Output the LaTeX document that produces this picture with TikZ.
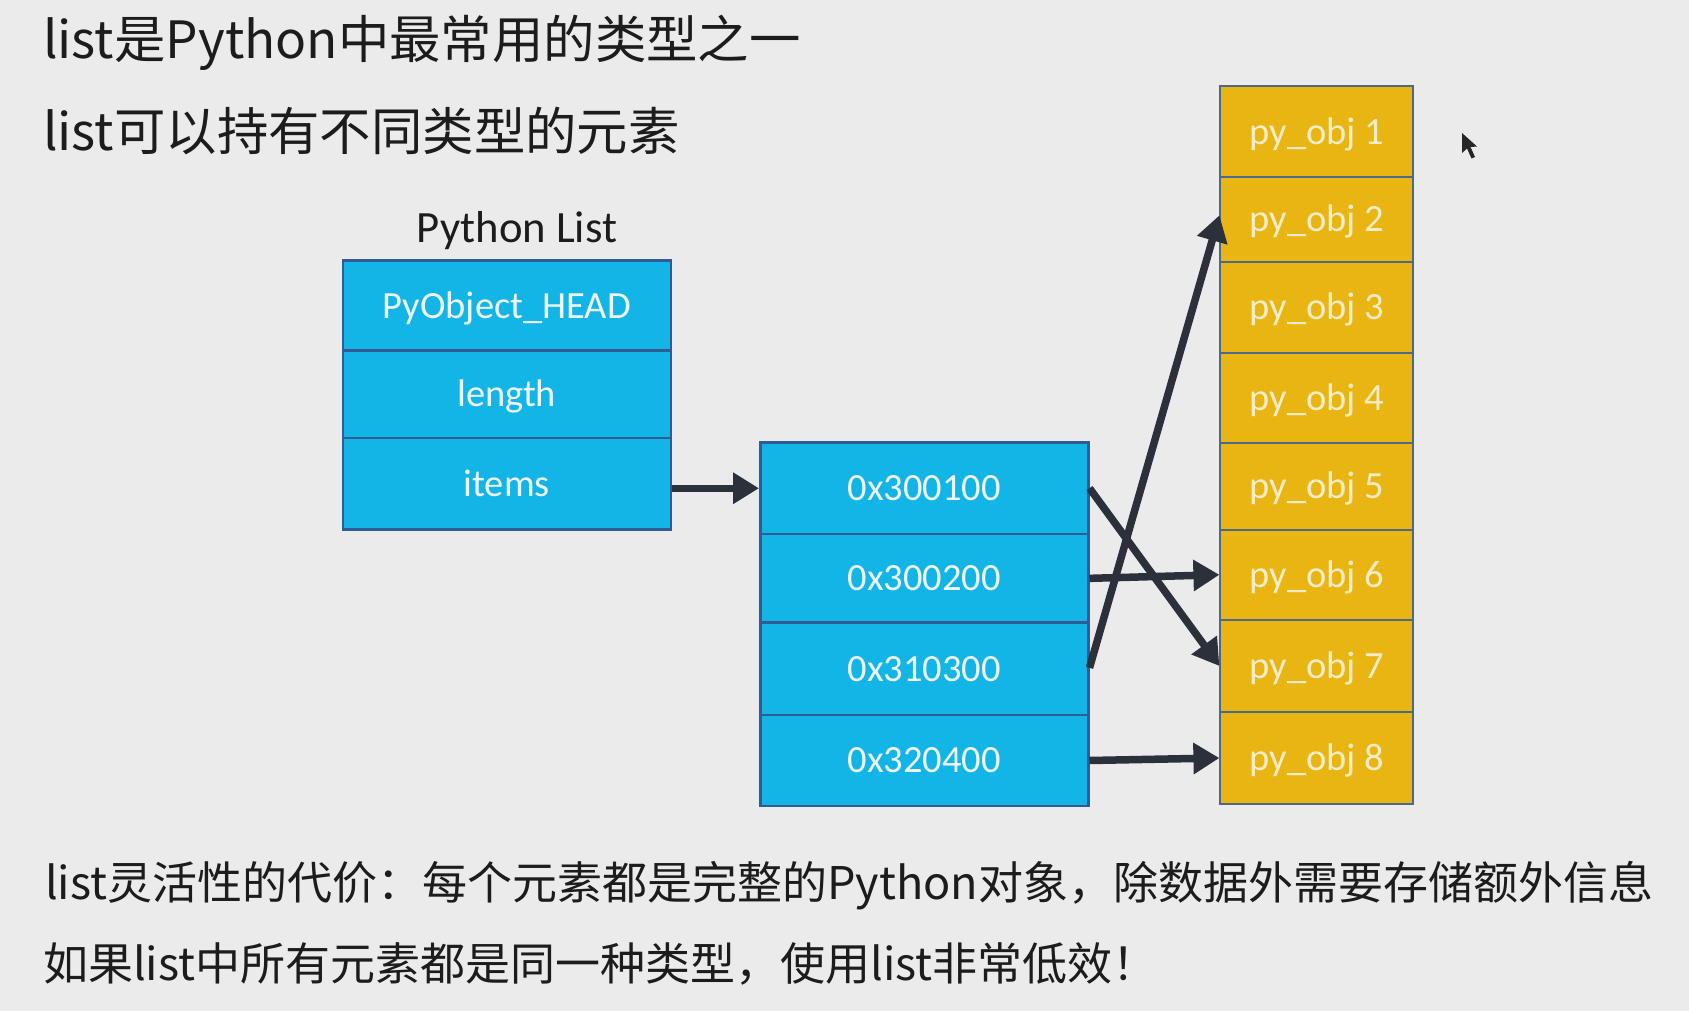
\documentclass[tikz,border=0pt]{standalone}
\usepackage{fontspec}
\setmainfont{Carlito}
\newfontfamily\cjk{Noto Sans CJK SC}
\usetikzlibrary{arrows.meta}
\definecolor{bg}{HTML}{EBEBEB}
\definecolor{cblue}{HTML}{13B4E6}
\definecolor{cgold}{HTML}{E8B512}
\definecolor{bordb}{HTML}{2F5C96}
\definecolor{bordg}{HTML}{4C6A88}
\definecolor{tblue}{HTML}{EEF6FA}
\definecolor{tgold}{HTML}{F8EDC8}
\definecolor{arrc}{HTML}{2C303B}
\definecolor{txt}{HTML}{1C1C1C}
\begin{document}
\begin{tikzpicture}[x=1pt,y=-1pt,
  cellb/.style={draw=bordb, line width=2.5pt, fill=cblue, text=tblue, inner sep=0pt,
    font=\fontsize{38.5}{40}\selectfont, text height=24.8pt, text depth=0pt, minimum width=328pt},
  cellg/.style={draw=bordg, line width=2pt, fill=cgold, text=tgold, inner sep=0pt,
    font=\fontsize{38.5}{40}\selectfont, text height=24.8pt, text depth=0pt, minimum width=193pt},
  arr/.style={draw=arrc, line width=7.5pt, -{Triangle[length=26pt,width=30pt]}},
  toptext/.style={anchor=base west, inner sep=0pt, text=txt, font=\cjk\fontsize{51.4}{56}\selectfont},
  bottext/.style={anchor=base west, inner sep=0pt, text=txt, font=\cjk\fontsize{45}{50}\selectfont}
]
\fill[bg] (0,0) rectangle (1689,1011);
\useasboundingbox (0,0) rectangle (1689,1011);

% texts
\node[toptext] (t1) at (43,59) {list是Python中最常用的类型之一};
\node[toptext] (t2) at (43,151) {list可以持有不同类型的元素};
\node[bottext] (b1) at (45,899) {list灵活性的代价：每个元素都是完整的Python对象，除数据外需要存储额外信息};
\node[bottext] (b2) at (43,980) {如果list中所有元素都是同一种类型，使用list非常低效！};

% Python List
\node[text=txt, font=\fontsize{44.7}{48}\selectfont, inner sep=0pt] (title) at (517,231) {Python List};
\node[cellb, minimum height=90pt]   (head)   at (506.75,305.7) {PyObject\_HEAD};
\node[cellb, minimum height=87.3pt] (length) at (506.75,394.35) {length};
\node[cellb, minimum height=91.5pt] (items)  at (506.75,483.75) {items};

% address array
\node[cellb, minimum height=91.5pt] (a1) at (924.25,488.25) {0x300100};
\node[cellb, minimum height=88.7pt] (a2) at (924.25,578.35) {0x300200};
\node[cellb, minimum height=92.3pt] (a3) at (924.25,668.85) {0x310300};
\node[cellb, minimum height=91pt]   (a4) at (924.25,760.5) {0x320400};

% objects
\node[cellg, minimum height=90.5pt] (r1) at (1316.9,131.75) {py\_obj 1};
\node[cellg, minimum height=84.5pt] (r2) at (1316.9,219.25) {py\_obj 2};
\node[cellg, minimum height=91.7pt] (r3) at (1316.9,307.35) {py\_obj 3};
\node[cellg, minimum height=89.6pt] (r4) at (1316.9,398) {py\_obj 4};
\node[cellg, minimum height=86.7pt] (r5) at (1316.9,486.15) {py\_obj 5};
\node[cellg, minimum height=90.5pt] (r6) at (1316.9,574.75) {py\_obj 6};
\node[cellg, minimum height=92pt]   (r7) at (1316.9,666) {py\_obj 7};
\node[cellg, minimum height=92pt]   (r8) at (1316.9,758) {py\_obj 8};

% connectors
\draw[arr] (items.east |- a1.west) -- (a1.west);
\draw[arr] (a1.east) -- (r7.west);
\draw[arr] (a2.east) -- (r6.west);
\draw[arr] ([yshift=1pt]a3.east) -- ([yshift=4pt]r2.west);
\draw[arr] (a4.east) -- (r8.west);

% mouse cursor
\fill[black!85] (1462,133) -- (1462,153) -- (1467,148.5) -- (1471.5,158.5) -- (1475,157) -- (1470.5,147) -- (1477,146.5) -- cycle;
\end{tikzpicture}
\end{document}
